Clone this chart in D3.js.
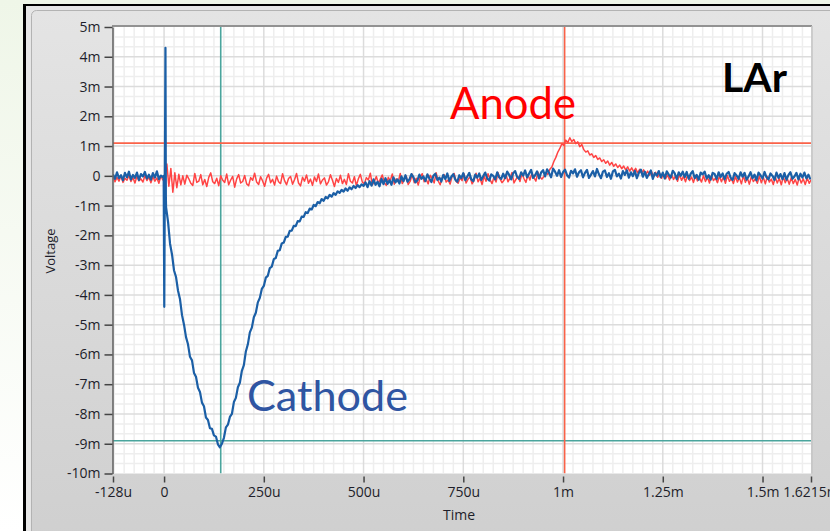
<!DOCTYPE html>
<html>
<head>
<meta charset="utf-8">
<script src="https://cdn.jsdelivr.net/npm/d3@7"></script>
<style>
body { margin: 0; overflow: hidden; }
svg { display: block; }
</style>
</head>
<body>
<svg width="830" height="531"></svg>
<script>
// time in microseconds, voltage in millivolts
const sampleStep = 5;

const cathodePreStart = -128;
const cathodePre = [
  0.05, -0.10, 0.12, -0.08, 0.02, -0.15, 0.10, -0.05, 0.14, -0.12,
  0.03, -0.07, 0.11, -0.14, 0.06, -0.02, 0.13, -0.09, 0.04, -0.13,
  0.09, -0.06, 0.15, -0.11, 0.01, -0.04
];
const cathodeSpikeT = [-1, 0.5, 2, 3.5, 4.5];
const cathodeSpikeV = [0.0, -4.4, 0.0, 4.3, -0.7];
const cathodeMainStart = 5;
const cathodeMain = [
  -1.05, -1.55, -2.28, -2.65, -3.18, -3.40, -3.86, -4.15, -4.68, -5.00,
  -5.42, -5.66, -6.08, -6.20, -6.62, -6.75, -7.12, -7.26, -7.62, -7.74,
  -8.12, -8.20, -8.48, -8.50, -8.72, -8.76, -9.02, -9.12, -9.00, -8.80,
  -8.45, -8.36, -8.10, -8.00, -7.60, -7.46, -7.10, -6.95, -6.55, -6.36,
  -5.90, -5.66, -5.26, -5.10, -4.75, -4.60, -4.25, -4.10, -3.80, -3.70,
  -3.42, -3.36, -3.10, -3.05, -2.80, -2.76, -2.52, -2.50, -2.27, -2.24,
  -2.05, -2.04, -1.85, -1.84, -1.68, -1.69, -1.52, -1.53, -1.37, -1.38,
  -1.22, -1.25, -1.10, -1.13, -0.98, -1.02, -0.88, -0.92, -0.78, -0.84,
  -0.71, -0.76, -0.64, -0.70, -0.58, -0.64, -0.52, -0.57, -0.47, -0.53,
  -0.42, -0.50, -0.39, -0.45, -0.34, -0.41, -0.31, -0.38, -0.29, -0.34,
  -0.22, -0.38, -0.18, -0.33, -0.12, -0.30, -0.20, -0.35, -0.10, -0.28,
  -0.08, -0.27, -0.15, -0.30, -0.05, -0.22, -0.12, -0.26, -0.02, -0.18,
  0.02, -0.20, -0.12, 0.06, -0.04, -0.22, -0.15, 0.04, -0.10, -0.02,
  -0.18, 0.05, -0.09, -0.21, 0.00, 0.07, -0.14, -0.06, -0.19, 0.03,
  -0.11, 0.08, -0.17, -0.03, 0.06, -0.13, -0.20, 0.02, -0.08, 0.09,
  -0.15, -0.02, 0.10, -0.12, -0.18, 0.04, -0.06, 0.08, -0.14, -0.01,
  0.11, -0.09, -0.16, 0.05, 0.00, -0.12, 0.12, -0.05, -0.10, 0.07,
  -0.08, 0.14, 0.03, -0.12, 0.09, 0.16, -0.04, -0.10, 0.12, 0.01,
  0.18, -0.05, 0.08, 0.20, -0.07, 0.02, 0.15, -0.09, 0.11, 0.19,
  -0.02, 0.22, 0.10, -0.05, 0.24, 0.14, 0.00, 0.19, -0.04, 0.12,
  0.21, 0.02, -0.06, 0.17, 0.08, 0.22, -0.03, 0.12, 0.19, -0.05,
  0.10, 0.20, -0.07, 0.04, 0.16, -0.02, 0.23, 0.05, -0.08, 0.14,
  0.18, -0.04, 0.09, -0.10, 0.15, 0.20, -0.02, 0.07, -0.09, 0.16,
  0.03, 0.19, -0.06, 0.12, -0.01, 0.17, -0.08, 0.10, 0.21, -0.03,
  0.14, -0.07, 0.06, 0.18, -0.10, 0.09, 0.01, 0.16, -0.05, 0.11,
  -0.09, 0.15, 0.04, -0.06, 0.17, 0.08, -0.11, 0.12, 0.00, 0.14,
  -0.04, 0.13, -0.10, 0.07, 0.16, -0.08, 0.03, -0.13, 0.11, 0.05,
  0.14, -0.09, 0.02, -0.13, 0.10, 0.06, -0.11, 0.12, -0.04, 0.08,
  -0.12, 0.07, 0.13, -0.06, -0.14, 0.09, 0.01, -0.10, 0.12, -0.03,
  0.10, -0.13, -0.02, 0.12, -0.08, 0.04, -0.15, 0.11, 0.02, -0.09,
  0.13, -0.05, -0.12, 0.08, 0.00, -0.14, 0.11, -0.07, 0.06, -0.11,
  0.09, -0.13, 0.03, 0.12, -0.10, -0.02, 0.10, -0.12, 0.07, -0.06,
  0.11, -0.09, 0.04, -0.12
];

const anodeStart = -128;
const anodeV = [
  -0.02, -0.20, -0.05, -0.18, 0.00, -0.22, -0.08, -0.15, 0.02, -0.19,
  -0.06, -0.24, -0.01, -0.17, -0.10, -0.21, 0.01, -0.16, -0.04, -0.23,
  -0.03, -0.18, -0.07, -0.25, 0.00, -0.14,
  -0.05, 0.40, -0.35, 0.25, -0.55, 0.10, -0.40, 0.05, -0.30, 0.00,
  -0.28, 0.02, -0.10, -0.25, -0.32, 0.08, -0.22, -0.18, 0.04, -0.30,
  -0.12, -0.36, -0.05, 0.10, -0.20, -0.26, -0.08, -0.33, 0.00, -0.15,
  -0.22, 0.06, -0.30, -0.14, -0.02, -0.38, -0.10, 0.04, -0.24, -0.19,
  0.01, -0.27, -0.33, -0.06, -0.15, 0.09, -0.21, -0.29, -0.03, -0.17,
  -0.35, -0.08, 0.05, -0.23, -0.12, -0.31, -0.01, -0.20, -0.26, 0.07,
  -0.16, -0.30, -0.09, -0.02, -0.28, -0.13, 0.08, -0.24, -0.34, -0.05,
  -0.18, 0.03, -0.25, -0.11, -0.32, -0.04, -0.19, 0.06, -0.27, -0.14,
  -0.07, -0.31, -0.20, 0.04, -0.15, -0.36, -0.09, -0.22, 0.02, -0.26,
  -0.12, -0.29, 0.07, -0.18, -0.24, -0.03, -0.33, -0.10, 0.05, -0.21,
  -0.27, -0.06, -0.14, 0.09, -0.30, -0.19, -0.02, -0.25, -0.11, 0.03,
  -0.22, -0.32, -0.05, -0.16, 0.06, -0.28, -0.10, -0.20, 0.08, -0.26,
  -0.13, -0.01, -0.29, -0.18, 0.05, -0.23, -0.08, -0.31, -0.04, 0.07,
  -0.20, -0.12, -0.27, 0.02, -0.09, -0.24, 0.10, -0.17, -0.30, -0.06,
  0.04, -0.21, -0.14, -0.28, -0.02, 0.08, -0.19, -0.25, -0.07, -0.16,
  0.06, -0.24, -0.11, -0.03, -0.27, -0.15, 0.09, -0.20, -0.08, -0.29,
  -0.01, -0.18, 0.07, -0.13, -0.26, -0.05, -0.21, 0.10, -0.10, -0.23,
  -0.15, 0.05, -0.20, -0.08, 0.11, -0.24, -0.12, -0.02, -0.19, 0.08,
  -0.09, -0.22, 0.04, -0.14, 0.09, -0.06, -0.18, 0.12, -0.03, -0.11,
  -0.02, 0.10, 0.05, 0.22, 0.30, 0.48, 0.62, 0.80, 0.92, 1.08,
  1.02, 1.20, 1.12, 1.28, 1.15, 1.22, 1.08, 1.14, 0.98, 1.05,
  0.88, 0.80, 0.84, 0.70, 0.74, 0.62, 0.68, 0.55, 0.60, 0.48,
  0.54, 0.42, 0.50, 0.36, 0.45, 0.32, 0.40, 0.28, 0.36, 0.24,
  0.33, 0.20, 0.30, 0.16, 0.27, 0.14, 0.25, 0.10, 0.22, 0.08,
  0.20, 0.04, 0.16, 0.02, 0.14, -0.03, 0.12, -0.05, 0.09, -0.08,
  0.06, -0.10, 0.03, -0.14, 0.05, -0.12, 0.00, -0.18, 0.04, -0.15,
  -0.02, -0.20, 0.03, -0.16, -0.04, -0.22, 0.01, -0.17, -0.06, -0.21,
  0.00, -0.19, -0.05, -0.24, 0.02, -0.16, -0.08, -0.23, -0.01, -0.20,
  -0.04, -0.25, 0.01, -0.18, -0.09, -0.26, -0.02, -0.21, -0.06, -0.27,
  0.00, -0.22, -0.07, -0.28, -0.03, -0.19, -0.10, -0.25, -0.01, -0.23,
  -0.05, -0.27, -0.02, -0.21, -0.11, -0.29, -0.04, -0.24, -0.08, -0.30,
  -0.03, -0.23, -0.09, -0.28, -0.06, -0.26, -0.12, -0.31, -0.05, -0.24,
  -0.10, -0.29, -0.07, -0.25, -0.13
];

// cursors: [cathode, anode]
const cursorT = [142, 1004];
const cursorV = [-8.9, 1.1];

const yTicks = [5, 4, 3, 2, 1, 0, -1, -2, -3, -4, -5, -6, -7, -8, -9, -10];
const yTickLabels = ['5m', '4m', '3m', '2m', '1m', '0', '-1m', '-2m', '-3m', '-4m', '-5m', '-6m', '-7m', '-8m', '-9m', '-10m'];
const xTicks = [-128, 0, 250, 500, 750, 1000, 1250, 1500, 1621.5];
const xTickLabels = ['-128u', '0', '250u', '500u', '750u', '1m', '1.25m', '1.5m', '1.6215m'];

const svg = d3.select('svg');
const pl = 113, pr = 811, pt = 27, pb = 473.5;

const x = d3.scaleLinear().domain([-128, 1621.5]).range([pl, pr]);
const y = d3.scaleLinear().domain([-10, 5]).range([pb, pt]);

// background + panel
const defs = svg.append('defs');
const bg = defs.append('linearGradient').attr('id', 'bg').attr('x1', 0).attr('y1', 0).attr('x2', 0).attr('y2', 1);
bg.append('stop').attr('offset', '0%').attr('stop-color', '#eff6e8');
bg.append('stop').attr('offset', '100%').attr('stop-color', '#ffffff');
const pg = defs.append('linearGradient').attr('id', 'panel').attr('x1', 0).attr('y1', 0).attr('x2', 0).attr('y2', 1);
pg.append('stop').attr('offset', '0%').attr('stop-color', '#e4e4e4');
pg.append('stop').attr('offset', '100%').attr('stop-color', '#cfcfcf');
defs.append('clipPath').attr('id', 'plotclip')
  .append('rect').attr('x', pl).attr('y', pt).attr('width', pr - pl).attr('height', pb - pt);

svg.append('rect').attr('width', 830).attr('height', 531).attr('fill', 'url(#bg)');
svg.append('rect').attr('x', 24).attr('y', 5).attr('width', 820).attr('height', 540).attr('fill', '#e6e6e6');
svg.append('rect').attr('x', 31.5).attr('y', 10.5).attr('width', 820).attr('height', 540).attr('rx', 5)
  .attr('fill', 'url(#panel)').attr('stroke', '#b3b3b3');
svg.append('rect').attr('x', 23).attr('y', 4).attr('width', 3).attr('height', 531).attr('fill', '#000');
svg.append('rect').attr('x', 23).attr('y', 4).attr('width', 810).attr('height', 2).attr('fill', '#000');

// plot area + grid
svg.append('rect').attr('x', pl).attr('y', pt).attr('width', pr - pl).attr('height', pb - pt).attr('fill', '#fff');

const grid = svg.append('g').attr('clip-path', 'url(#plotclip)');
const minorX = d3.range(-125, 1625, 25).filter(t => t % 250 !== 0);
const minorY = d3.range(-30, 15).map(k => k / 3).filter(v => Math.abs(v - Math.round(v)) > 0.01);
grid.selectAll('.mx').data(minorX).enter().append('line')
  .attr('x1', d => x(d)).attr('x2', d => x(d)).attr('y1', pt).attr('y2', pb)
  .attr('stroke', '#eeeeee').attr('stroke-width', 1.5);
grid.selectAll('.my').data(minorY).enter().append('line')
  .attr('x1', pl).attr('x2', pr).attr('y1', d => y(d)).attr('y2', d => y(d))
  .attr('stroke', '#eeeeee').attr('stroke-width', 1.5);
grid.selectAll('.gx').data(xTicks.slice(1, -1)).enter().append('line')
  .attr('x1', d => x(d)).attr('x2', d => x(d)).attr('y1', pt).attr('y2', pb)
  .attr('stroke', '#dcdcdc').attr('stroke-width', 1.5);
grid.selectAll('.gy').data(yTicks.slice(1, -1)).enter().append('line')
  .attr('x1', pl).attr('x2', pr).attr('y1', d => y(d)).attr('y2', d => y(d))
  .attr('stroke', '#dcdcdc').attr('stroke-width', 1.5);

// plot frame
svg.append('line').attr('x1', pl - 1).attr('x2', pr + 1).attr('y1', pt - 1).attr('y2', pt - 1)
  .attr('stroke', '#777').attr('stroke-width', 1.5);
svg.append('line').attr('x1', pr + 1).attr('x2', pr + 1).attr('y1', pt - 1).attr('y2', pb)
  .attr('stroke', '#c4c4c4').attr('stroke-width', 1.5);

// cursors
const cursors = svg.append('g').attr('clip-path', 'url(#plotclip)');
const cursorColors = ['#4aa59d', '#fa6248'];
cursorT.forEach((t, i) => {
  cursors.append('line').attr('x1', x(t)).attr('x2', x(t)).attr('y1', pt).attr('y2', pb)
    .attr('stroke', cursorColors[i]).attr('stroke-width', 1.6);
  cursors.append('line').attr('x1', pl).attr('x2', pr).attr('y1', y(cursorV[i])).attr('y2', y(cursorV[i]))
    .attr('stroke', cursorColors[i]).attr('stroke-width', 1.6);
});

// traces
const anode = anodeV.map((v, i) => [anodeStart + i * sampleStep, v]);
const cathode = cathodePre.map((v, i) => [cathodePreStart + i * sampleStep, v])
  .concat(cathodeSpikeT.map((t, i) => [t, cathodeSpikeV[i]]))
  .concat(cathodeMain.map((v, i) => [cathodeMainStart + i * sampleStep, v]));

const line = d3.line().x(d => x(d[0])).y(d => y(d[1]));
const traces = svg.append('g').attr('clip-path', 'url(#plotclip)');
traces.append('path').datum(anode).attr('d', line)
  .attr('fill', 'none').attr('stroke', '#ff4444').attr('stroke-width', 1.5).attr('stroke-linejoin', 'round');
traces.append('path').datum(cathode).attr('d', line)
  .attr('fill', 'none').attr('stroke', '#1b5fa6').attr('stroke-width', 2.2).attr('stroke-linejoin', 'round');

// axes
const yAxis = svg.append('g').attr('transform', `translate(${pl - 0.5},0)`)
  .call(d3.axisLeft(y).tickValues(yTicks).tickFormat((d, i) => yTickLabels[i]).tickSize(8).tickPadding(4).tickSizeOuter(0));
const xAxis = svg.append('g').attr('transform', `translate(0,${pb + 3})`)
  .call(d3.axisBottom(x).tickValues(xTicks).tickFormat((d, i) => xTickLabels[i]).tickSize(6).tickPadding(5).tickSizeOuter(0));
xAxis.select('.domain').remove();
yAxis.select('.domain').attr('stroke', '#666').attr('stroke-width', 1.6);
[xAxis, yAxis].forEach(a => {
  a.selectAll('.tick line').attr('stroke', '#444').attr('stroke-width', 1.5);
  a.selectAll('.tick text').attr('fill', '#1e1e2a').style('font-family', '"Open Sans", sans-serif').style('font-size', '14px');
});

svg.append('text').attr('x', 459).attr('y', 520).attr('text-anchor', 'middle')
  .style('font-family', '"Open Sans", sans-serif').style('font-size', '14px').attr('fill', '#1e1e2a').text('Time');
svg.append('text').attr('transform', 'translate(55,251) rotate(-90)').attr('text-anchor', 'middle')
  .style('font-family', '"Open Sans", sans-serif').style('font-size', '13px').attr('fill', '#1e1e2a').text('Voltage');

// slide labels
function label(txt, lx, ly, width, color, weight) {
  const t = svg.append('text').attr('x', lx).attr('y', ly).attr('fill', color)
    .style('font-family', 'Lato, sans-serif').style('font-weight', weight).style('font-size', '48px').text(txt);
  const w = t.node().getComputedTextLength();
  t.style('font-size', (48 * width / w) + 'px');
}
label('Anode', 450, 119, 126, '#ff0000', 400);
label('Cathode', 247, 411, 161, '#2f55a2', 400);
label('LAr', 722, 92, 65, '#000000', 700);
</script>
</body>
</html>
